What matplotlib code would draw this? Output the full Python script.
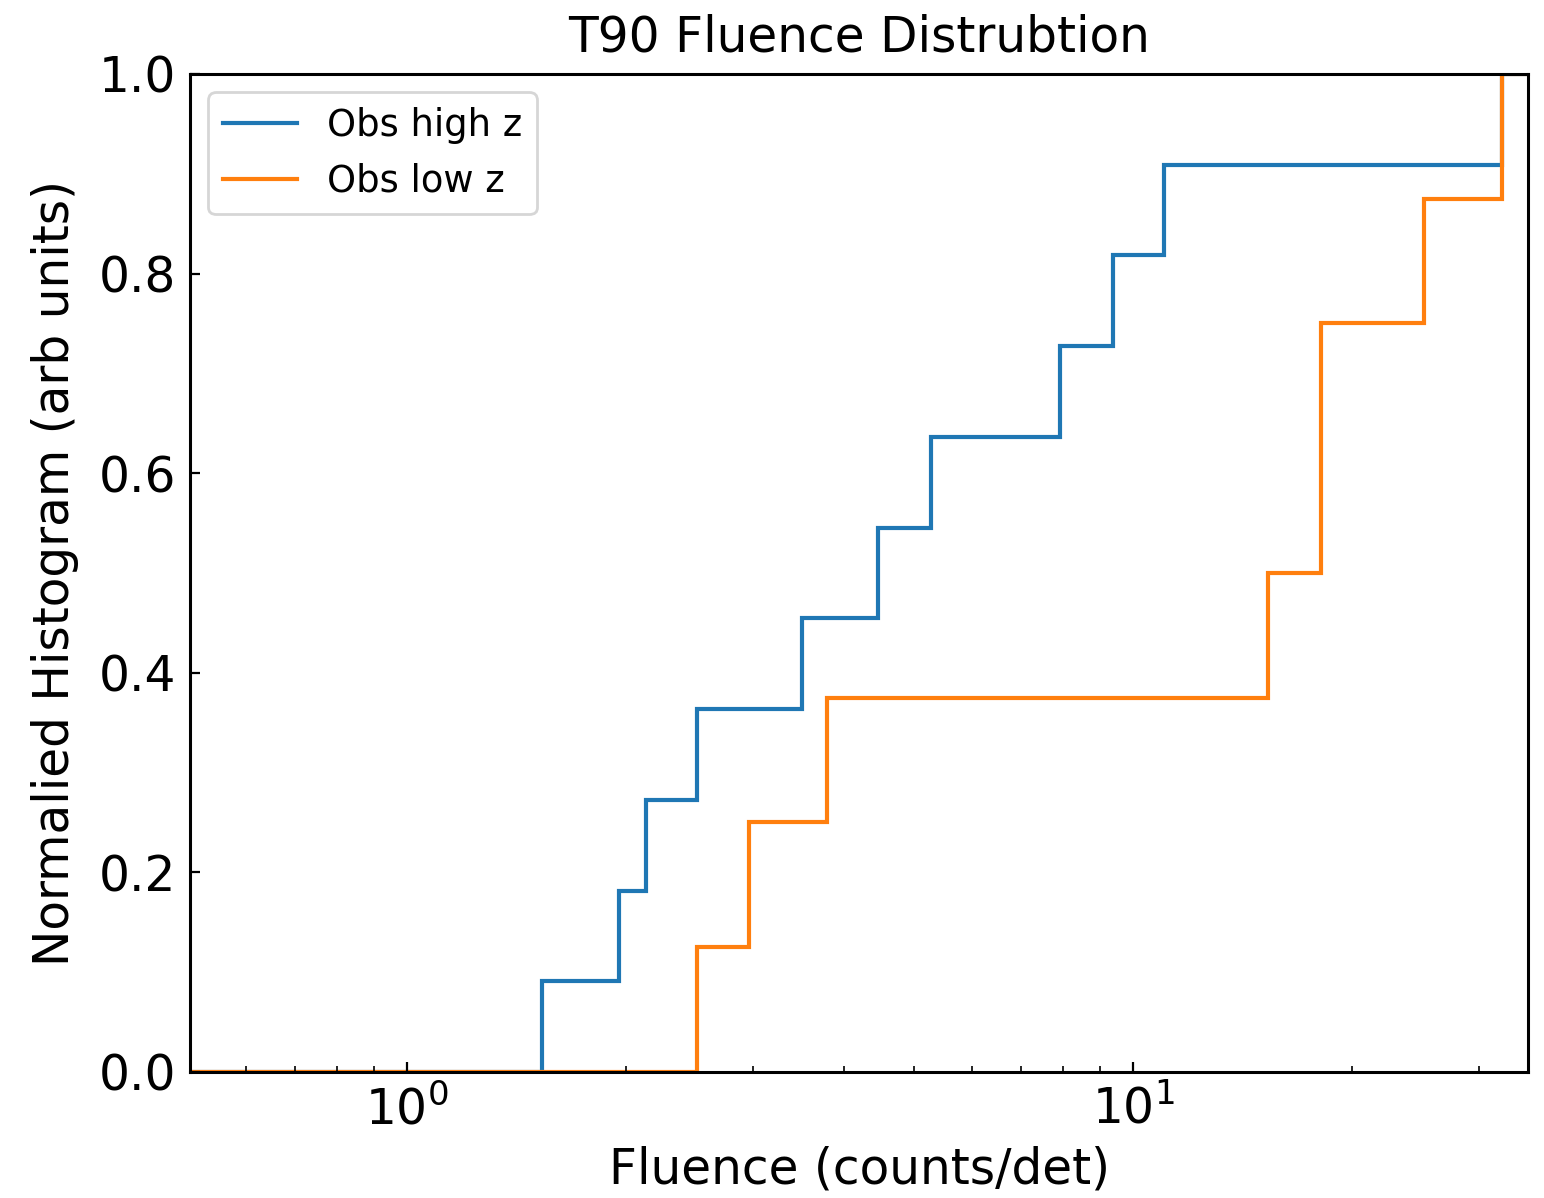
import numpy as np
import matplotlib
matplotlib.use("Agg")
import matplotlib.pyplot as plt

# fluence of each burst (counts/det)
high_z = [1.533, 1.959, 2.132, 2.508, 3.498, 4.455, 5.270, 7.934, 9.387, 11.03, 32.2]
low_z = [2.508, 2.962, 3.793, 15.35, 18.16, 18.16, 25.17, 32.2]
labels = ["Obs high z", "Obs low z"]
colors = ["#1f77b4", "#ff7f0e"]

xmin, xmax = 0.5025, 35.0


def cum_steps(vals):
    vals = np.sort(np.asarray(vals))
    # bins run a little past the plotted range on both sides
    edges = np.concatenate([[xmin * 0.9], vals, [xmax * 1.1]])
    levels = np.arange(len(vals) + 1) / len(vals)
    return levels, edges


fig = plt.figure(figsize=(7.72, 5.99), dpi=200)
ax = fig.add_axes([0.12306, 0.10518, 0.86658, 0.83306])

for vals, lab, col in zip([high_z, low_z], labels, colors):
    levels, edges = cum_steps(vals)
    ax.stairs(levels, edges, baseline=0, color=col, linewidth=1.5, label=lab)

ax.set_xscale("log")
ax.set_xlim(xmin, xmax)
ax.set_ylim(0, 1.0)
for sp in ax.spines.values():
    sp.set_linewidth(1.1)
ax.tick_params(axis="both", which="both", direction="in", labelsize=17.5, pad=5)
ax.set_title("T90 Fluence Distrubtion", fontsize=17.5, pad=8)
ax.set_xlabel("Fluence (counts/det)", fontsize=17.5)
ax.set_ylabel("Normalied Histogram (arb units)", fontsize=17.5, labelpad=7)
ax.legend(loc="upper left", fontsize=13.3)

fig.savefig("out.png", dpi=200)
